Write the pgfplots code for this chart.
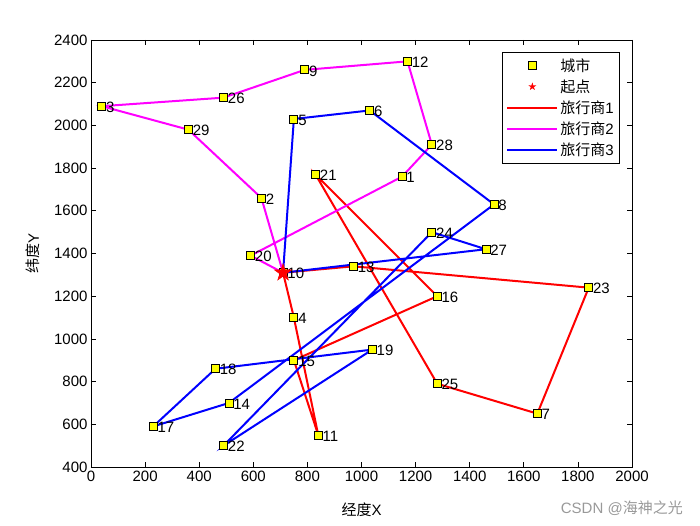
\documentclass[border=0pt]{standalone}
\usepackage{fontspec}
\setmainfont{Liberation Sans}
\newfontfamily\cjk{Noto Sans CJK SC}
\usepackage{pgfplots}
\usepackage{pgfplotstable}
\pgfplotsset{compat=1.18}
\definecolor{mred}{rgb}{1,0,0}
\definecolor{mmag}{rgb}{1,0,1}
\definecolor{mblue}{rgb}{0,0,1}
\definecolor{myel}{rgb}{1,1,0}

\pgfdeclareplotmark{fstar}{%
  \pgfpathmoveto{\pgfpointpolar{90}{\pgfplotmarksize}}%
  \pgfpathlineto{\pgfpointpolar{126}{0.382\pgfplotmarksize}}%
  \pgfpathlineto{\pgfpointpolar{162}{\pgfplotmarksize}}%
  \pgfpathlineto{\pgfpointpolar{198}{0.382\pgfplotmarksize}}%
  \pgfpathlineto{\pgfpointpolar{234}{\pgfplotmarksize}}%
  \pgfpathlineto{\pgfpointpolar{270}{0.382\pgfplotmarksize}}%
  \pgfpathlineto{\pgfpointpolar{306}{\pgfplotmarksize}}%
  \pgfpathlineto{\pgfpointpolar{342}{0.382\pgfplotmarksize}}%
  \pgfpathlineto{\pgfpointpolar{18}{\pgfplotmarksize}}%
  \pgfpathlineto{\pgfpointpolar{54}{0.382\pgfplotmarksize}}%
  \pgfpathclose
  \pgfusepathqfillstroke}

\pgfplotstableread{
x y n
1150 1760 1
630 1660 2
40 2090 3
750 1100 4
750 2030 5
1030 2070 6
1650 650 7
1490 1630 8
790 2260 9
710 1310 10
840 550 11
1170 2300 12
970 1340 13
510 700 14
750 900 15
1280 1200 16
230 590 17
460 860 18
1040 950 19
590 1390 20
830 1770 21
490 500 22
1840 1240 23
1260 1500 24
1280 790 25
490 2130 26
1460 1420 27
1260 1910 28
360 1980 29
}\cities

\begin{document}
\begin{tikzpicture}
\path[use as bounding box] (-91pt,-58pt) rectangle (609pt,467pt);
\begin{axis}[
  at={(0pt,0pt)}, anchor=south west,
  scale only axis, width=541pt, height=427pt,
  xmin=0, xmax=2000, ymin=400, ymax=2400,
  xtick={0,200,...,2000}, ytick={400,600,...,2400},
  tick align=inside, xtick pos=both, ytick pos=both,
  xticklabel pos=lower, yticklabel pos=left,
  major tick length=5pt,
  axis line style={line width=0.8pt},
  tick style={line width=0.8pt, black},
  ticklabel style={font=\fontsize{15}{17}\selectfont},
  /pgf/number format/assume math mode=true,
  /pgf/number format/1000 sep={},
  xlabel={{\cjk 经度}X}, ylabel={{\cjk 纬度}Y},
  label style={font=\fontsize{15}{17}\selectfont},
  xlabel style={at={(axis description cs:0.5,-0.1007)}, anchor=center},
  ylabel style={at={(axis description cs:-0.107,0.5)}, anchor=center},
  legend style={at={(axis description cs:0.978,0.972)}, anchor=north east,
    font=\fontsize{15}{17}\selectfont, draw=black, line width=0.8pt,
    row sep=3pt, inner sep=4pt, cells={anchor=west}},
  legend image code/.code={\draw[mark repeat=2,mark phase=2,#1] plot coordinates {(0pt,0pt) (25pt,0pt) (50pt,0pt)};},
]
\addplot[only marks, mark=square*, mark size=4pt,
  mark options={fill=myel, draw=black, line width=0.8pt},
  nodes near coords, point meta=explicit symbolic,
  nodes near coords style={anchor=west, xshift=4pt, yshift=-1pt, inner sep=0pt,
    font=\fontsize{15}{17}\selectfont, text=black},
  forget plot] table[meta=n] {\cities};
\addplot[only marks, mark=fstar, mark size=9pt, mred, mark options={fill=mred, line width=0.5pt}, forget plot]
  coordinates {(710,1310)};
\addplot[mred, line width=2pt, forget plot] coordinates {
(710,1310) (750,1100) (840,550) (750,900) (1280,1200) (830,1770) (1280,790) (1650,650) (1840,1240) (970,1340) (710,1310)};
\addplot[mmag, line width=2pt, forget plot] coordinates {
(710,1310) (590,1390) (1150,1760) (1260,1910) (1170,2300) (790,2260) (490,2130) (40,2090) (360,1980) (630,1660) (710,1310)};
\addplot[mblue, line width=2pt, forget plot] coordinates {
(710,1310) (750,2030) (1030,2070) (1490,1630) (510,700) (230,590) (460,860) (1040,950) (490,500) (1260,1500) (1460,1420) (710,1310)};

\addlegendimage{only marks, mark=square*, mark size=4pt, mark options={fill=myel, draw=black, line width=0.8pt}}
\addlegendentry{{\cjk 城市}}
\addlegendimage{only marks, mark=fstar, mark size=3.5pt, mred, mark options={fill=mred, line width=0.4pt}}
\addlegendentry{{\cjk 起点}}
\addlegendimage{mred, line width=2pt}
\addlegendentry{{\cjk 旅行商}1}
\addlegendimage{mmag, line width=2pt}
\addlegendentry{{\cjk 旅行商}2}
\addlegendimage{mblue, line width=2pt}
\addlegendentry{{\cjk 旅行商}3}
\end{axis}
\node[anchor=east, text=black!40, font=\fontsize{15}{17}\selectfont, inner sep=0pt] at (592pt,-41pt) {CSDN @{\cjk 海神之光}};
\end{tikzpicture}
\end{document}
